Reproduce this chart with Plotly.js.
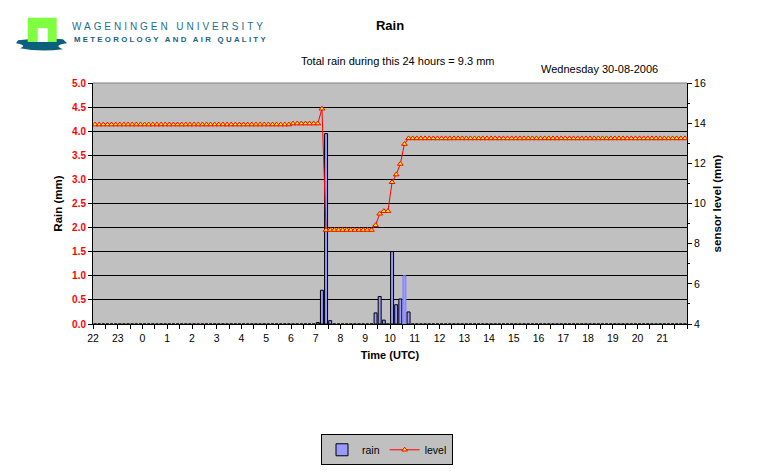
<!DOCTYPE html>
<html>
<head>
<meta charset="utf-8">
<script src="https://cdn.plot.ly/plotly-3.0.1.min.js"></script>
<style>html,body{margin:0;padding:0;background:#fff;}#chart{width:776px;height:476px;}</style>
</head>
<body>
<div id="chart"></div>
<script>
// ---- data (10-minute slots starting 22:00 of previous day) ----
const rain = [
  0,0,0,0,0,0, 0,0,0,0,0,0, 0,0,0,0,0,0, 0,0,0,0,0,0,   // 22-02
  0,0,0,0,0,0, 0,0,0,0,0,0, 0,0,0,0,0,0, 0,0,0,0,0,0,   // 02-06
  0,0,0,0,0,0, 0.03,0.7,3.95,0.07,0,0,                   // 06-08
  0,0,0,0,0,0, 0,0,0.23,0.57,0.08,0,                     // 08-10
  1.5,0.4,0.52,1.0,0.25,0, 0,0,0,0,0,0,                  // 10-12
  0,0,0,0,0,0, 0,0,0,0,0,0, 0,0,0,0,0,0, 0,0,0,0,0,0,   // 12-16
  0,0,0,0,0,0, 0,0,0,0,0,0, 0,0,0,0,0,0, 0,0,0,0,0,0,   // 16-20
  0,0,0,0,0,0, 0,0,0,0,0,0                               // 20-22
];
const level = [
  13.93,13.93,13.93,13.93,13.93,13.93, 13.93,13.93,13.93,13.93,13.93,13.93,
  13.93,13.93,13.93,13.93,13.93,13.93, 13.93,13.93,13.93,13.93,13.93,13.93,
  13.93,13.93,13.93,13.93,13.93,13.93, 13.93,13.93,13.93,13.93,13.93,13.93,
  13.93,13.93,13.93,13.93,13.93,13.93, 13.93,13.93,13.93,13.93,13.93,13.93,
  13.98,13.98,13.98,13.98,13.98,13.98, 13.98,14.72,8.68,8.68,8.68,8.68,
  8.68,8.68,8.68,8.68,8.68,8.68, 8.68,8.68,8.92,9.49,9.62,9.62,
  11.06,11.44,11.97,12.96,13.24,13.24, 13.24,13.24,13.24,13.24,13.24,13.24,
  13.24,13.24,13.24,13.24,13.24,13.24, 13.24,13.24,13.24,13.24,13.24,13.24,
  13.24,13.24,13.24,13.24,13.24,13.24, 13.24,13.24,13.24,13.24,13.24,13.24,
  13.24,13.24,13.24,13.24,13.24,13.24, 13.24,13.24,13.24,13.24,13.24,13.24,
  13.24,13.24,13.24,13.24,13.24,13.24, 13.24,13.24,13.24,13.24,13.24,13.24,
  13.24,13.24,13.24,13.24,13.24,13.24, 13.24,13.24,13.24,13.24,13.24,13.24
];
const hourLabels = ['22','23','0','1','2','3','4','5','6','7','8','9','10',
  '11','12','13','14','15','16','17','18','19','20','21'];
const rainTicks = [0,0.5,1,1.5,2,2.5,3,3.5,4,4.5,5];

// x = hours since 22:00, at the middle of each 10-minute slot
const slotX = level.map((_, i) => (i + 0.5) / 6);
const tickVals = [], tickText = [];
for (let k = 0; k <= 48; k++) {
  tickVals.push(k / 2);
  tickText.push(k % 2 === 0 && k / 2 < hourLabels.length ? hourLabels[k / 2] : '');
}
const barLine = rain.map((v, i) => i === 75 ? '#8080ff' : '#000000');

// plot area in pixels -> paper coords helpers (for decorations only)
const L = 93, R = 687, T = 83, B = 325.5;
const px = v => (v - L) / (R - L);
const py = v => (B - v) / (B - T);

const FONT = 'Liberation Sans, Arial, sans-serif';

const traces = [
  {
    type: 'bar', name: 'rain', x: slotX, y: rain, yaxis: 'y',
    width: 0.12,
    marker: {color: '#9999ff', line: {color: barLine, width: 1}},
    hoverinfo: 'x+y'
  },
  {
    type: 'scatter', mode: 'lines+markers', name: 'level', x: slotX, y: level, yaxis: 'y2',
    line: {color: '#ff0000', width: 1},
    marker: {symbol: 'triangle-up', size: 5, color: '#ffff00', line: {color: '#ff0000', width: 1}}
  }
];

const logoPath = `M ${px(18)},${py(40)} Q ${px(40)},${py(37)} ${px(63)},${py(39)} L ${px(67)},${py(43)} ` +
  `Q ${px(52)},${py(45)} ${px(63)},${py(49)} Q ${px(40)},${py(52)} ${px(20)},${py(48)} ` +
  `Q ${px(28)},${py(45)} ${px(16)},${py(43)} Z`;

const layout = {
  width: 776, height: 476,
  margin: {l: L, r: 776 - R, t: T, b: 476 - B, pad: 0},
  paper_bgcolor: '#ffffff', plot_bgcolor: '#c0c0c0',
  font: {family: FONT, size: 10, color: '#000'},
  showlegend: true,
  bargap: 0,
  title: {text: 'Rain', font: {family: FONT, size: 13, weight: 'bold', color: '#000'},
          xref: 'container', yref: 'container', x: 390 / 776, y: 1 - 25 / 476,
          xanchor: 'center', yanchor: 'middle'},
  xaxis: {
    range: [0, 24], tickmode: 'array', tickvals: tickVals, ticktext: tickText,
    ticks: 'outside', ticklen: 4, tickcolor: '#000', tickwidth: 1,
    showline: true, linecolor: '#000', linewidth: 1, showgrid: false, zeroline: false,
    tickfont: {family: FONT, size: 10.5, color: '#000'},
    title: {text: 'Time (UTC)', font: {family: FONT, size: 11, weight: 'bold'}, standoff: 8},
    fixedrange: true
  },
  yaxis: {
    range: [0, 5], tickmode: 'array', tickvals: rainTicks, tickformat: '.1f',
    ticks: 'outside', ticklen: 4, tickcolor: '#000',
    showline: true, linecolor: '#000', linewidth: 1,
    showgrid: true, gridcolor: '#000', gridwidth: 1, zeroline: false,
    tickfont: {family: FONT, size: 10, color: '#ff0000', weight: 'bold'},
    title: {text: 'Rain (mm)', font: {family: FONT, size: 11.5, weight: 'bold'}, standoff: 7},
    fixedrange: true
  },
  yaxis2: {
    range: [4, 16], overlaying: 'y', side: 'right', dtick: 2, tick0: 4,
    ticks: 'outside', ticklen: 4, tickcolor: '#000',
    minor: {dtick: 1, ticks: 'outside', ticklen: 2, tickcolor: '#000', showgrid: false},
    showline: true, linecolor: '#000', linewidth: 1, showgrid: false, zeroline: false,
    tickfont: {family: FONT, size: 10.5, color: '#000'},
    title: {text: 'sensor level (mm)', font: {family: FONT, size: 11.5, weight: 'bold'}, standoff: 8},
    fixedrange: true
  },
  legend: {
    orientation: 'h', x: px(321), y: py(435), xanchor: 'left', yanchor: 'top',
    bgcolor: '#c0c0c0', bordercolor: '#000', borderwidth: 1,
    font: {family: FONT, size: 10.5, color: '#000'}, itemwidth: 30, tracegroupgap: 0
  },
  shapes: [
    {type: 'line', xref: 'paper', yref: 'paper', x0: 0, x1: 1, y0: 1, y1: 1,
     line: {color: '#808080', width: 1}},
    // logo: blue base
    {type: 'path', xref: 'paper', yref: 'paper', path: logoPath,
     fillcolor: '#0a5f7c', line: {width: 0}},
    // logo: green arch
    {type: 'rect', xref: 'paper', yref: 'paper', x0: px(27.7), x1: px(56.7), y0: py(41.7), y1: py(17.3),
     fillcolor: '#80ff40', line: {width: 0}},
    {type: 'rect', xref: 'paper', yref: 'paper', x0: px(37.7), x1: px(47.7), y0: py(41.7), y1: py(27.7),
     fillcolor: '#ffffff', line: {width: 0}}
  ],
  annotations: [
    {text: '<span style="letter-spacing:2.95px">WAGENINGEN UNIVERSITY</span>',
     xref: 'paper', yref: 'paper', x: px(70), y: py(26), xanchor: 'left', yanchor: 'middle',
     showarrow: false, font: {family: FONT, size: 10, color: '#1b6f8f'}},
    {text: '<span style="letter-spacing:2.3px">METEOROLOGY AND AIR QUALITY</span>',
     xref: 'paper', yref: 'paper', x: px(72), y: py(39.5), xanchor: 'left', yanchor: 'middle',
     showarrow: false, font: {family: FONT, size: 7.8, color: '#1b5f80', weight: 'bold'}},
    {text: 'Total rain during this 24 hours = 9.3 mm',
     xref: 'paper', yref: 'paper', x: px(398), y: py(61), xanchor: 'center', yanchor: 'middle',
     showarrow: false, font: {family: FONT, size: 11, color: '#000'}},
    {text: 'Wednesday 30-08-2006',
     xref: 'paper', yref: 'paper', x: px(599), y: py(69), xanchor: 'center', yanchor: 'middle',
     showarrow: false, font: {family: FONT, size: 11, color: '#000'}}
  ]
};

Plotly.newPlot('chart', traces, layout, {displayModeBar: false, staticPlot: true});
</script>
</body>
</html>
